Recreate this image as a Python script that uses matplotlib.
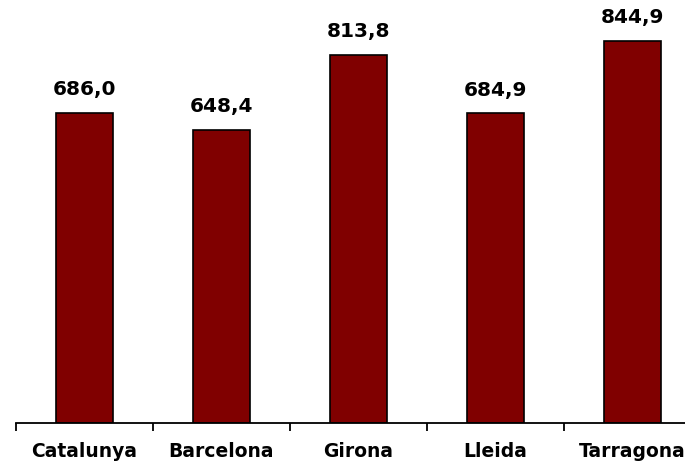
import numpy as np
import matplotlib.pyplot as plt

# data
categories = ['Catalunya', 'Barcelona', 'Girona', 'Lleida', 'Tarragona']
values = [686.0, 648.4, 813.8, 684.9, 844.9]
labels = ['686,0', '648,4', '813,8', '684,9', '844,9']

plt.rcParams['font.family'] = ['DejaVu Sans']

fig = plt.figure(figsize=(6.85, 4.62), dpi=100)
ax = fig.add_axes([16 / 685, 39 / 462, 685 / 685, 407 / 462])

x = np.arange(len(categories))
ax.bar(x, values, width=0.416, color='#800000', edgecolor='black', linewidth=1.2)

for xi, v, lab in zip(x, values, labels):
    ax.text(xi, v + 30, lab, ha='center', va='bottom', fontsize=14.5,
            fontweight='bold')

ax.set_xlim(-0.5, len(categories) - 0.5)
ax.set_ylim(0, 900)

for s in ['top', 'right', 'left']:
    ax.spines[s].set_visible(False)
ax.spines['bottom'].set_linewidth(1.3)
ax.set_yticks([])

ax.set_xticks(x)
ax.set_xticklabels(categories, fontsize=13.5, fontweight='bold')
ax.tick_params(axis='x', which='major', length=0, pad=14)
ax.set_xticks(np.arange(len(categories) + 1) - 0.5, minor=True)
ax.tick_params(axis='x', which='minor', length=6, width=1.3, direction='out')

fig.savefig('out.png', dpi=100)
